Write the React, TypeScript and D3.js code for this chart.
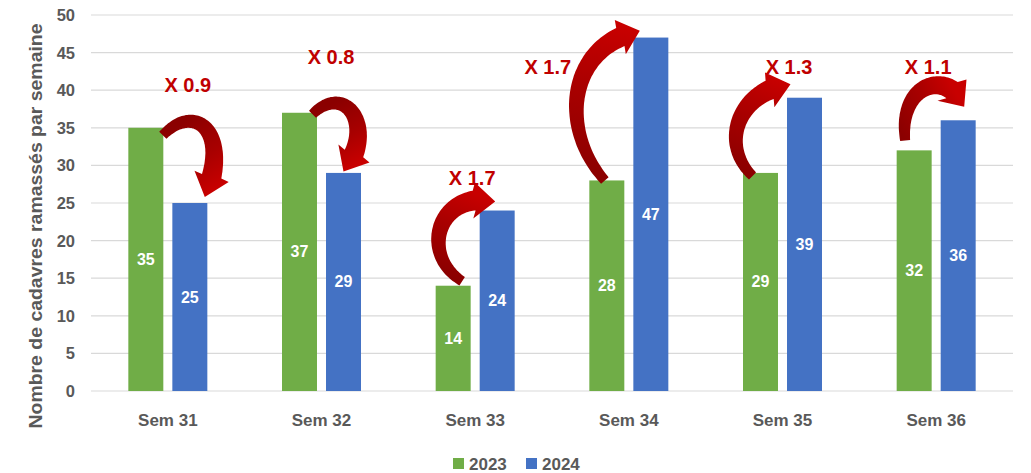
import React from 'react';
import * as d3 from 'd3';

const categories = ['Sem 31', 'Sem 32', 'Sem 33', 'Sem 34', 'Sem 35', 'Sem 36'];
const values2023 = [35, 37, 14, 28, 29, 32];
const values2024 = [25, 29, 24, 47, 39, 36];
const ratioLabels = ['X 0.9', 'X 0.8', 'X 1.7', 'X 1.7', 'X 1.3', 'X 1.1'];
const yTicks = [0, 5, 10, 15, 20, 25, 30, 35, 40, 45, 50];
const seriesNames = ['2023', '2024'];

// arrow annotations: [pixel offset from category centre, value on the y axis]
const arrowPoints: [number, number][][] = [
    [[-5, 34.0], [27, 38.5], [64, 34.5], [37, 25.8]],
    [[-9, 36.8], [24, 41.2], [56, 35.0], [22, 29.2]],
    [[-13, 14.6], [-57, 18.3], [-36, 26.8], [20, 25.2]],
    [[-24, 28.0], [-71, 35.0], [-60, 46.0], [11, 47.9]],
    [[-30, 28.6], [-64, 33.0], [-43, 40.0], [8, 40.8]],
    [[-31, 33.3], [-38, 41.2], [14, 42.8], [28, 37.8]],
];
const labelPos: [number, number][] = [
    [20, 40.7], [9.5, 44.4], [-3, 28.3], [-81, 43.1], [6.5, 43.1], [-8, 43.1],
];

const width = 1031;
const height = 473;
const plotLeft = 91;
const plotRight = 1013;
const plotTop = 15;
const plotBottom = 391;

const GREEN = '#70AD47';
const BLUE = '#4472C4';
const TEXT = '#595959';
const FONT = '"Liberation Sans", Arial, sans-serif';

function bezier(p: [number, number][], t: number): [number, number] {
    const u = 1 - t;
    const a = u * u * u, b = 3 * u * u * t, c = 3 * u * t * t, d = t * t * t;
    return [
        a * p[0][0] + b * p[1][0] + c * p[2][0] + d * p[3][0],
        a * p[0][1] + b * p[1][1] + c * p[2][1] + d * p[3][1],
    ];
}

// tapered curved arrow built along a cubic bezier
function arrowPath(p: [number, number][], w0 = 10, w1 = 20, headLen = 20, headW = 36) {
    const N = 80;
    const pts: [number, number][] = [];
    for (let i = 0; i <= N; i++) pts.push(bezier(p, i / N));
    const cum = [0];
    for (let i = 1; i <= N; i++) {
        cum.push(cum[i - 1] + Math.hypot(pts[i][0] - pts[i - 1][0], pts[i][1] - pts[i - 1][1]));
    }
    const total = cum[N];
    const bodyEnd = total - headLen;
    const left: [number, number][] = [];
    const right: [number, number][] = [];
    let lastIdx = 0;
    for (let i = 0; i <= N; i++) {
        if (cum[i] > bodyEnd) break;
        lastIdx = i;
        const prev = pts[Math.max(0, i - 1)];
        const next = pts[Math.min(N, i + 1)];
        const dx = next[0] - prev[0], dy = next[1] - prev[1];
        const len = Math.hypot(dx, dy) || 1;
        const nx = -dy / len, ny = dx / len;
        const w = (w0 + (w1 - w0) * (cum[i] / bodyEnd)) / 2;
        left.push([pts[i][0] + nx * w, pts[i][1] + ny * w]);
        right.push([pts[i][0] - nx * w, pts[i][1] - ny * w]);
    }
    const base = pts[lastIdx];
    const tip = pts[N];
    const dx = tip[0] - base[0], dy = tip[1] - base[1];
    const len = Math.hypot(dx, dy) || 1;
    const nx = -dy / len, ny = dx / len;
    const hl: [number, number] = [base[0] + nx * headW / 2, base[1] + ny * headW / 2];
    const hr: [number, number] = [base[0] - nx * headW / 2, base[1] - ny * headW / 2];
    const outline = [...left, hl, tip, hr, ...right.reverse()];
    return 'M' + outline.map(q => `${q[0].toFixed(1)},${q[1].toFixed(1)}`).join('L') + 'Z';
}

const App: React.FC = () => {
    const x0 = d3.scaleBand<string>().domain(categories).range([plotLeft, plotRight]).padding(0);
    const x1 = d3.scaleBand<string>().domain(seriesNames).range([0, 79]).paddingInner(0.205);
    const y = d3.scaleLinear().domain([0, 50]).range([plotBottom, plotTop]);
    const centre = (c: string) => (x0(c) ?? 0) + x0.bandwidth() / 2;
    const groupStart = (c: string) => centre(c) - 39.5;

    return (
        <svg
            width={width}
            height={height}
            style={{ position: 'absolute', left: 0, top: 0, background: '#fff' }}
            fontFamily={FONT}
        >
            <defs>
                {arrowPoints.map((pts, i) => {
                    const cx = centre(categories[i]);
                    return (
                        <linearGradient
                            key={i}
                            id={`arrowGrad${i}`}
                            gradientUnits="userSpaceOnUse"
                            x1={cx + pts[0][0]}
                            y1={y(pts[0][1])}
                            x2={cx + pts[3][0]}
                            y2={y(pts[3][1])}
                        >
                            <stop offset="0%" stopColor="#8B0000" />
                            <stop offset="55%" stopColor="#A80000" />
                            <stop offset="100%" stopColor="#C80000" />
                        </linearGradient>
                    );
                })}
            </defs>

            {/* grid + y ticks */}
            {yTicks.map(t => (
                <g key={t}>
                    <line x1={plotLeft} x2={plotRight} y1={y(t)} y2={y(t)} stroke="#D9D9D9" strokeWidth={1.2} />
                    <text
                        x={75}
                        y={y(t)}
                        textAnchor="end"
                        dominantBaseline="central"
                        fontSize={16.5}
                        fontWeight="bold"
                        fill={TEXT}
                    >
                        {t}
                    </text>
                </g>
            ))}

            {/* bars */}
            {categories.map((c, i) => {
                const gx = groupStart(c);
                const vals = [values2023[i], values2024[i]];
                return (
                    <g key={c}>
                        {vals.map((v, j) => {
                            const bx = gx + (x1(seriesNames[j]) ?? 0);
                            return (
                                <g key={j}>
                                    <rect
                                        x={bx}
                                        y={y(v)}
                                        width={x1.bandwidth()}
                                        height={y(0) - y(v)}
                                        fill={j === 0 ? GREEN : BLUE}
                                    />
                                    <text
                                        x={bx + x1.bandwidth() / 2}
                                        y={(y(v) + y(0)) / 2}
                                        textAnchor="middle"
                                        dominantBaseline="central"
                                        fontSize={16}
                                        fontWeight="bold"
                                        fill="#fff"
                                    >
                                        {v}
                                    </text>
                                </g>
                            );
                        })}
                        <text
                            x={centre(c)}
                            y={420}
                            textAnchor="middle"
                            dominantBaseline="central"
                            fontSize={17}
                            fontWeight="bold"
                            fill={TEXT}
                        >
                            {c}
                        </text>
                    </g>
                );
            })}

            {/* ratio arrows */}
            {arrowPoints.map((pts, i) => {
                const cx = centre(categories[i]);
                const p = pts.map(([dx, v]) => [cx + dx, y(v)] as [number, number]);
                return <path key={i} d={arrowPath(p)} fill={`url(#arrowGrad${i})`} />;
            })}
            {ratioLabels.map((l, i) => (
                <text
                    key={i}
                    x={centre(categories[i]) + labelPos[i][0]}
                    y={y(labelPos[i][1])}
                    textAnchor="middle"
                    dominantBaseline="central"
                    fontSize={20}
                    fontWeight="bold"
                    fill="#C00000"
                >
                    {l}
                </text>
            ))}

            {/* y axis title */}
            <text
                transform={`translate(35, ${(22 + 430) / 2}) rotate(-90)`}
                textAnchor="middle"
                dominantBaseline="central"
                fontSize={19}
                fontWeight="bold"
                fill={TEXT}
                textLength={405}
                lengthAdjust="spacingAndGlyphs"
            >
                Nombre de cadavres ramassés par semaine
            </text>

            {/* legend */}
            {seriesNames.map((s, i) => (
                <g key={s} transform={`translate(${453 + i * 73}, 458)`}>
                    <rect width={11} height={11} fill={i === 0 ? GREEN : BLUE} />
                    <text x={16} y={6} dominantBaseline="central" fontSize={17} fontWeight="bold" fill={TEXT}>
                        {s}
                    </text>
                </g>
            ))}
        </svg>
    );
};

export default App;
